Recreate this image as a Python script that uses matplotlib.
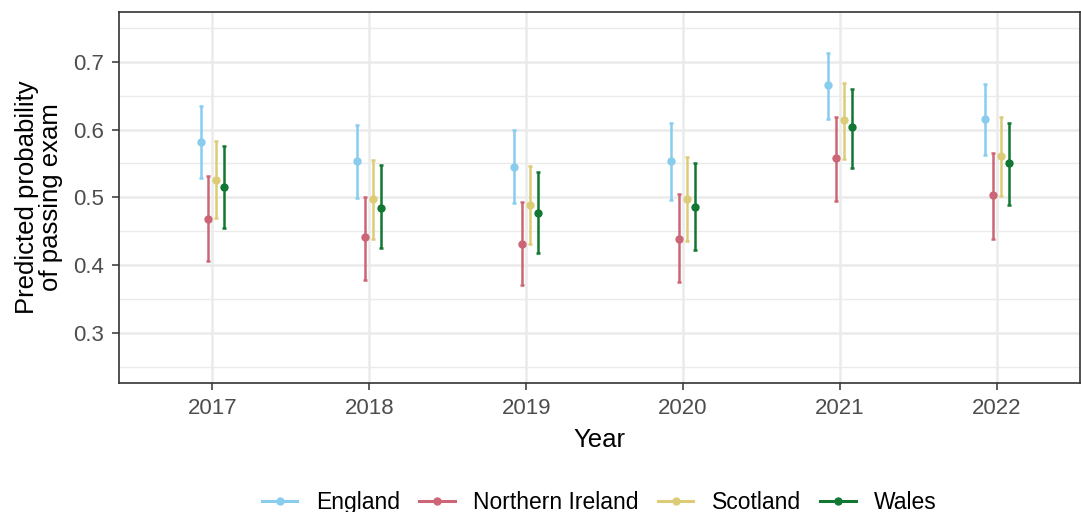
import numpy as np
import matplotlib
matplotlib.use("Agg")
import matplotlib.pyplot as plt
from matplotlib.ticker import MultipleLocator, FormatStrFormatter
from matplotlib.lines import Line2D

years = ["2017", "2018", "2019", "2020", "2021", "2022"]
nations = ["England", "Northern Ireland", "Scotland", "Wales"]

# predicted probability with lower / upper confidence limits, per nation
england = [0.582, 0.553, 0.545, 0.553, 0.666, 0.616]
england_lo = [0.528, 0.499, 0.492, 0.496, 0.616, 0.562]
england_hi = [0.634, 0.606, 0.599, 0.610, 0.713, 0.667]

nireland = [0.468, 0.441, 0.431, 0.439, 0.558, 0.503]
nireland_lo = [0.406, 0.378, 0.371, 0.375, 0.494, 0.439]
nireland_hi = [0.531, 0.501, 0.493, 0.505, 0.619, 0.566]

scotland = [0.526, 0.497, 0.489, 0.497, 0.614, 0.561]
scotland_lo = [0.469, 0.438, 0.431, 0.435, 0.557, 0.502]
scotland_hi = [0.583, 0.555, 0.546, 0.559, 0.668, 0.618]

wales = [0.515, 0.485, 0.477, 0.486, 0.603, 0.550]
wales_lo = [0.455, 0.425, 0.418, 0.422, 0.543, 0.489]
wales_hi = [0.575, 0.547, 0.538, 0.550, 0.660, 0.610]

series = [
    (england, england_lo, england_hi),
    (nireland, nireland_lo, nireland_hi),
    (scotland, scotland_lo, scotland_hi),
    (wales, wales_lo, wales_hi),
]
colours = ["#88CCEE", "#CC6677", "#DDCC77", "#117733"]
offsets = [-0.075, -0.025, 0.025, 0.075]

plt.rcParams["font.family"] = ["Liberation Sans", "DejaVu Sans"]

fig = plt.figure(figsize=(10.81, 5.12), dpi=100)
ax = fig.add_axes([0.1101, 0.252, 0.8889, 0.725])

x = np.arange(len(years))
for (mid, lo, hi), name, col, off in zip(series, nations, colours, offsets):
    mid = np.array(mid)
    err = [mid - np.array(lo), np.array(hi) - mid]
    ax.errorbar(x + off, mid, yerr=err, fmt="o", color=col, ecolor=col,
                markersize=5, elinewidth=1.8, capsize=1.6, capthick=1.8,
                zorder=3)

ax.set_xlim(-0.595, 5.53)
ax.set_ylim(0.2265, 0.7735)
ax.set_xticks(x)
ax.set_xticklabels(years)
ax.yaxis.set_major_locator(MultipleLocator(0.1))
ax.yaxis.set_minor_locator(MultipleLocator(0.05))
ax.yaxis.set_major_formatter(FormatStrFormatter("%.1f"))

ax.grid(True, which="major", color="#EBEBEB", linewidth=1.8, zorder=0)
ax.grid(True, which="minor", axis="y", color="#EBEBEB", linewidth=1.0, zorder=0)
ax.set_axisbelow(True)
ax.tick_params(which="minor", length=0)
ax.tick_params(which="major", length=5, width=1.1, color="#333333",
               labelsize=16, labelcolor="#4D4D4D", pad=6)
for sp in ax.spines.values():
    sp.set_color("#333333")
    sp.set_linewidth(1.2)

ax.set_xlabel("Year", fontsize=18.5, labelpad=6)
ax.set_ylabel("Predicted probability\nof passing exam", fontsize=18.5,
              linespacing=1.0)
ax.yaxis.set_label_coords(-0.058, 0.5)

# legend keys drawn as point-range style: short line with a dot
handles = [Line2D([0], [0], color=c, lw=2.2, marker="o", markersize=5)
           for c in colours]
fig.legend(handles, nations, loc="center",
           bbox_to_anchor=(0.5545, 0.019), ncol=4, frameon=False,
           fontsize=16.5, handlelength=1.55, columnspacing=0.85,
           handletextpad=0.8, borderaxespad=0)

fig.savefig("out.png", dpi=100)
